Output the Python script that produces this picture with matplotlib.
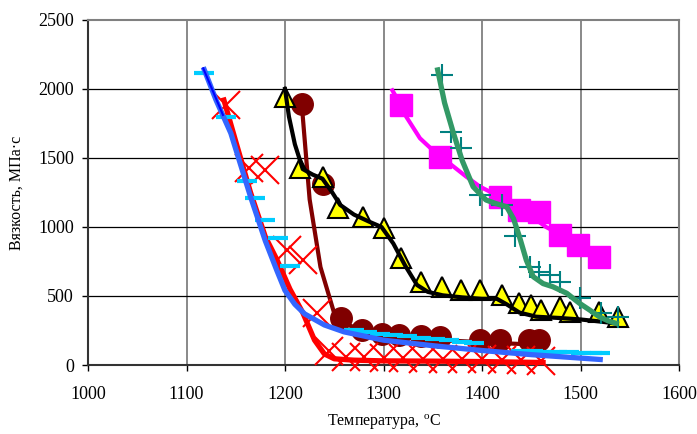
import matplotlib
matplotlib.use('Agg')
import matplotlib.pyplot as plt

plt.rcParams['font.family'] = ['Liberation Serif', 'DejaVu Serif']
plt.rcParams['mathtext.fontset'] = 'custom'
plt.rcParams['mathtext.rm'] = 'Liberation Serif'

# red crosses + fitted curve
red_t = [1140, 1163, 1180, 1202, 1218, 1232, 1245, 1262, 1280, 1300, 1320,
         1340, 1360, 1380, 1400, 1420, 1440, 1460]
red_v = [1885, 1425, 1415, 835, 760, 375, 100, 60, 55, 50, 50, 45, 45, 40,
         40, 35, 35, 30]
red_fit_t = [1138, 1150, 1165, 1180, 1192, 1205, 1218, 1230, 1240, 1250,
             1270, 1300, 1350, 1400, 1462]
red_fit_v = [1920, 1620, 1250, 930, 760, 550, 380, 180, 80, 45, 35, 30, 28,
             25, 18]

# cyan dashes
cyan_t = [1118, 1140, 1161, 1170, 1180, 1193, 1205, 1270, 1283, 1296, 1310,
          1324, 1338, 1352, 1366, 1380, 1392, 1440, 1452, 1464, 1476, 1488,
          1500, 1512, 1520]
cyan_v = [2118, 1800, 1330, 1210, 1050, 918, 717, 252, 240, 228, 218, 208,
          198, 190, 180, 170, 162, 100, 98, 96, 94, 92, 90, 88, 88]

# blue curve
blue_t = [1118, 1130, 1145, 1165, 1180, 1192, 1200, 1210, 1220, 1240, 1260,
          1300, 1350, 1400, 1450, 1520]
blue_v = [2140, 1920, 1680, 1220, 900, 680, 540, 440, 370, 290, 240, 180,
          140, 105, 75, 40]
dblue_t = [1117, 1137]
dblue_v = [2150, 1812]

# maroon circles + curve
mar_t = [1217, 1239, 1257, 1278, 1298, 1316, 1338, 1357, 1398, 1418, 1448, 1458]
mar_v = [1889, 1310, 338, 254, 225, 220, 210, 200, 181, 181, 181, 181]
mar_fit_t = [1217, 1225, 1236, 1251, 1260, 1280, 1300, 1320, 1340, 1360,
             1400, 1430, 1465]
mar_fit_v = [1890, 1200, 710, 350, 300, 250, 215, 200, 190, 180, 165, 155, 145]

# yellow triangles + black curve
tri_t = [1200, 1215, 1239, 1254, 1279, 1300, 1318, 1338, 1359, 1379, 1398,
         1420, 1438, 1450, 1460, 1479, 1489, 1519, 1538]
tri_v = [1944, 1425, 1364, 1140, 1075, 990, 773, 604, 567, 543, 543, 507,
         447, 435, 399, 423, 386, 386, 350]
blk_t = [1200, 1204, 1210, 1218, 1228, 1238, 1248, 1256, 1270, 1285, 1298,
         1310, 1322, 1334, 1345, 1360, 1380, 1400, 1415, 1425, 1438, 1455,
         1480, 1500, 1520, 1537]
blk_v = [2000, 1800, 1600, 1420, 1380, 1350, 1250, 1160, 1090, 1040, 1000,
         880, 720, 580, 530, 505, 490, 480, 480, 440, 380, 350, 340, 330,
         315, 300]

# magenta squares + curve
mag_t = [1318, 1357, 1418, 1438, 1458, 1479, 1497, 1519]
mag_v = [1884, 1510, 1220, 1123, 1111, 942, 870, 785]
mag_fit_t = [1309, 1318, 1323, 1337, 1357, 1367, 1384, 1398, 1418, 1440,
             1465, 1480]
mag_fit_v = [1990, 1880, 1800, 1643, 1510, 1461, 1365, 1292, 1220, 1130,
             1000, 945]

# teal pluses + green curve
plus_t = [1359, 1369, 1379, 1398, 1420, 1434, 1449, 1458, 1469, 1479, 1499,
          1521, 1538]
plus_v = [2101, 1691, 1570, 1232, 1159, 937, 712, 676, 652, 604, 483, 374, 350]
grn_t = [1355, 1362, 1371, 1380, 1391, 1404, 1414, 1425, 1432, 1438, 1445,
         1452, 1462, 1472, 1486, 1499, 1510, 1519, 1528, 1536]
grn_v = [2138, 1900, 1680, 1480, 1292, 1196, 1170, 1147, 1060, 930, 760, 640,
         590, 567, 520, 447, 395, 350, 320, 302]

x_ticks = [1000, 1100, 1200, 1300, 1400, 1500, 1600]
y_ticks = [0, 500, 1000, 1500, 2000, 2500]

fig = plt.figure(figsize=(6.97, 4.34), dpi=100)
ax = fig.add_axes([88 / 697, 69 / 434, 591 / 697, 345 / 434])

for t in x_ticks[1:-1]:
    ax.axvline(t, color='#808080', lw=1.3, zorder=0)
for v in y_ticks[1:-1]:
    ax.axhline(v, color='black', lw=0.9, zorder=0)

kw = dict(clip_on=False)
ax.plot(mar_t, mar_v, 'o', ms=15.5, color='#800000', mec='#800000', zorder=2, **kw)
ax.plot(mar_fit_t, mar_fit_v, color='#800000', lw=3, zorder=2, **kw)
ax.plot(red_t, red_v, 'x', ms=20, mew=1.5, color='#FF0000', zorder=3, **kw)
ax.plot(red_fit_t, red_fit_v, color='#FF0000', lw=3.8, zorder=3, **kw)
ax.plot(cyan_t, cyan_v, '_', ms=15, mew=3, color='#00CCFF', zorder=4, **kw)
ax.plot(blue_t, blue_v, color='#3366FF', lw=3.8, zorder=5, **kw)
ax.plot(dblue_t, dblue_v, color='#0000FF', lw=1.5, zorder=5, **kw)
ax.plot(tri_t, tri_v, '^', ms=14, color='#FFFF00', mec='black', mew=1.5,
        zorder=6, **kw)
ax.plot(blk_t, blk_v, color='black', lw=3, zorder=7, **kw)
ax.plot(mag_fit_t, mag_fit_v, color='#FF00FF', lw=3, zorder=8, **kw)
ax.plot(mag_t, mag_v, 's', ms=15.5, color='#FF00FF', zorder=8, **kw)
ax.plot(plus_t, plus_v, '+', ms=16, mew=1.5, color='#008080', zorder=9, **kw)
ax.plot(grn_t, grn_v, color='#339966', lw=3.8, zorder=10, **kw)

ax.set_xlim(1000, 1600)
ax.set_ylim(0, 2500)
ax.set_xticks(x_ticks)
ax.set_yticks(y_ticks)
ax.tick_params(axis='x', direction='out', length=4, width=1, pad=11, labelsize=13)
ax.tick_params(axis='y', direction='out', length=4, width=1, pad=6, labelsize=13)

ax.spines['top'].set_color('#808080')
ax.spines['right'].set_color('#808080')
ax.spines['top'].set_linewidth(1.5)
ax.spines['right'].set_linewidth(1.5)
ax.spines['left'].set_linewidth(1.5)
ax.spines['bottom'].set_linewidth(1.5)
ax.spines['left'].set_color('#333333')
ax.spines['bottom'].set_color('#333333')

ax.set_xlabel('Температура, $^{\\mathrm{o}}$C', fontsize=11.5, labelpad=7)
ax.set_ylabel('Вязкость, МПа·с', fontsize=11.5, labelpad=10)

fig.savefig('out.png', dpi=100)
